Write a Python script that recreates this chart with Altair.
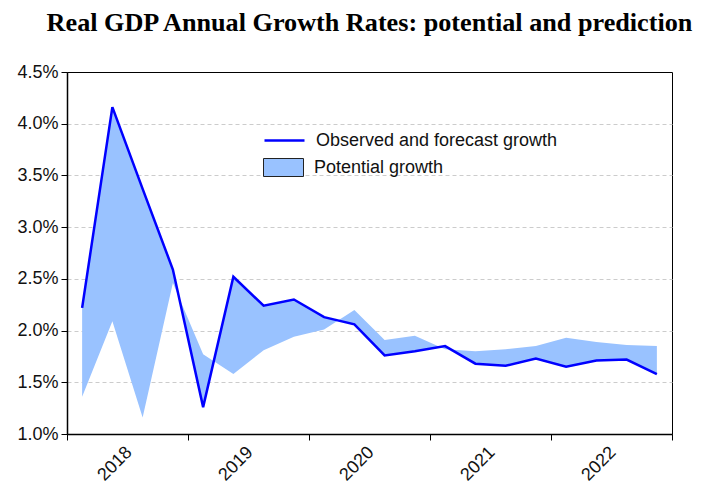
import altair as alt
import pandas as pd

years = [2018]*4 + [2019]*4 + [2020]*4 + [2021]*4 + [2022]*4
quarters = [1, 2, 3, 4] * 5
observed = [2.22, 4.16, 3.37, 2.59, 1.26, 2.52, 2.24, 2.30, 2.13, 2.06,
            1.76, 1.80, 1.85, 1.68, 1.66, 1.73, 1.65, 1.71, 1.72, 1.58]
potential = [1.36, 2.09, 1.16, 2.46, 1.77, 1.58, 1.81, 1.94, 2.01, 2.20,
             1.91, 1.95, 1.82, 1.80, 1.82, 1.85, 1.93, 1.89, 1.86, 1.85]
y_ticks = [1.0, 1.5, 2.0, 2.5, 3.0, 3.5, 4.0, 4.5]
x_ticks = [2018, 2018.5, 2019, 2019.5, 2020, 2020.5, 2021, 2021.5, 2022, 2022.5, 2023]

df = pd.DataFrame({
    "t": [y + (q - 0.5) / 4 for y, q in zip(years, quarters)],
    "observed": observed,
    "potential": potential,
    "line_label": "Observed and forecast growth",
    "area_label": "Potential growth",
})

FONT = "Liberation Sans"
FS = 18

x_enc = alt.X(
    "t:Q",
    scale=alt.Scale(domain=[2018, 2023], nice=False, zero=False),
    axis=alt.Axis(
        values=x_ticks, title=None, grid=False,
        labelExpr="datum.value % 1 ? format(floor(datum.value), 'd') : ''",
        labelAngle=-45, labelAlign="right", labelBaseline="top",
        labelPadding=3, labelOffset=-5, labelFontSize=FS, labelFont=FONT, labelColor="#111111",
        tickSize=6, tickColor="black", domainColor="black", domainWidth=1.5,
        tickOpacity={"condition": {"test": "datum.value % 1 != 0", "value": 0}, "value": 1},
        labelOverlap=False,
    ),
)

y_axis = alt.Axis(
    values=y_ticks, title=None, grid=True, gridDash=[4, 3], gridColor="#cccccc",
    gridOpacity={"condition": {"test": "datum.value > 4.4 || datum.value < 1.1", "value": 0}, "value": 1},
    labelExpr="format(datum.value, '.1f') + '%'", labelFontSize=FS, labelFont=FONT,
    labelColor="#111111", labelPadding=3, tickSize=6, tickColor="black",
    domainColor="black", domainWidth=1.5,
)

area = alt.Chart(df).mark_area(opacity=1).encode(
    x=x_enc,
    y=alt.Y("potential:Q", scale=alt.Scale(domain=[1.0, 4.5], nice=False, zero=False), axis=y_axis),
    y2="observed:Q",
    fill=alt.Fill(
        "area_label:N", scale=alt.Scale(range=["#99c2ff"]),
        legend=alt.Legend(
            title=None, orient="none", legendX=196, legendY=75, padding=0,
            symbolType="M-1,-0.45L1,-0.45L1,0.45L-1,0.45Z", symbolSize=1600,
            symbolStrokeColor="#222222", symbolStrokeWidth=1, symbolOpacity=1,
            labelFontSize=FS, labelFont=FONT, labelColor="#111111", labelOffset=10,
            labelLimit=0,
        ),
    ),
)

line = alt.Chart(df).mark_line(strokeWidth=2.5).encode(
    x=x_enc,
    y=alt.Y("observed:Q"),
    stroke=alt.Stroke(
        "line_label:N", scale=alt.Scale(range=["#0000ff"]),
        legend=alt.Legend(
            title=None, orient="none", legendX=196, legendY=47, padding=0,
            symbolType="stroke", symbolSize=1600, symbolStrokeWidth=2.5,
            labelFontSize=FS, labelFont=FONT, labelColor="#111111", labelOffset=10,
            labelLimit=0,
        ),
    ),
)

chart = alt.layer(area, line).properties(
    width=605, height=362,
    title=alt.Title(
        "Real GDP Annual Growth Rates: potential and prediction",
        font="Liberation Serif", fontSize=26.2, fontWeight="bold", color="black",
        anchor="middle", offset=27, limit=0,
    ),
    autosize=alt.AutoSizeParams(type="none"),
    padding={"left": 59, "top": 64, "right": 25, "bottom": 50},
).configure_view(stroke="black", strokeWidth=1)

chart.save("out.html", embed_options={"renderer": "svg", "actions": False})
